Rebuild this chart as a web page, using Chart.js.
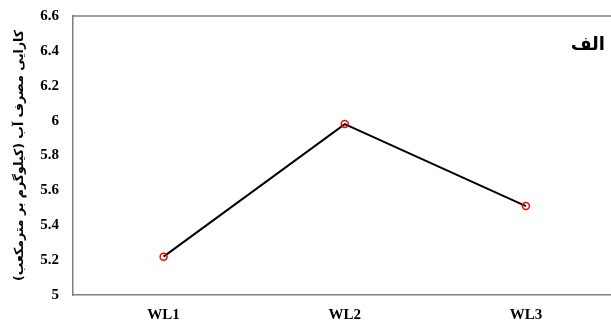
<!DOCTYPE html>
<html>
<head>
  <meta charset="utf-8">
  <title>WUE</title>
  <script src="https://cdn.jsdelivr.net/npm/chart.js@4.4.0/dist/chart.umd.min.js"></script>
  <style>
    html, body { margin: 0; padding: 0; background: #fff; overflow: hidden; }
    #wrap { width: 622px; height: 320px; }
  </style>
</head>
<body>
  <div id="wrap"><canvas id="myChart" width="622" height="320"></canvas></div>
  <script type="text/javascript">
    var categories = ["WL1", "WL2", "WL3"];
    var wueValues = [5.22, 5.98, 5.51];
    var yTicks = [5, 5.2, 5.4, 5.6, 5.8, 6, 6.2, 6.4, 6.6];
    var axisTitle = "کارایی مصرف آب (کیلوگرم بر مترمکعب)";
    var panelLabel = "الف";

    var AXIS_GRAY = "#7f7f7f";
    var SERIF = "'Liberation Serif', 'Times New Roman', serif";

    // top frame line + panel letter
    var extras = {
      id: "extras",
      afterDraw: function(chart) {
        var c = chart.ctx, a = chart.chartArea;
        c.save();
        c.strokeStyle = AXIS_GRAY;
        c.lineWidth = 1.5;
        c.beginPath();
        c.moveTo(a.left, a.top);
        c.lineTo(a.right + 5, a.top);
        c.stroke();
        c.fillStyle = "#000";
        c.font = "bold 18px 'DejaVu Sans', 'Noto Sans'";
        c.textAlign = "right";
        c.textBaseline = "middle";
        c.fillText(panelLabel, 605, 45);
        c.restore();
      }
    };

    var ctx = document.getElementById("myChart");
    var myChart = new Chart(ctx, {
      type: "line",
      data: {
        labels: categories,
        datasets: [{
          data: wueValues,
          borderColor: "#000",
          borderWidth: 2,
          pointRadius: 3.5,
          pointBorderWidth: 1.5,
          pointBorderColor: "#ff0000",
          pointBackgroundColor: "transparent",
          tension: 0
        }]
      },
      options: {
        responsive: false,
        animation: false,
        layout: { padding: { top: 16, right: 2, left: 0, bottom: 0 } },
        plugins: { legend: { display: false }, tooltip: { enabled: false } },
        scales: {
          x: {
            offset: true,
            grid: { display: false, drawTicks: false },
            border: { color: AXIS_GRAY, width: 1.5 },
            ticks: {
              color: "#000",
              padding: 11,
              font: { family: SERIF, size: 15, weight: "bold" }
            },
            afterFit: function(s) { s.height = 25; s.paddingLeft = 0; s.paddingRight = 0; }
          },
          y: {
            min: 5,
            max: 6.6,
            grid: { display: false, drawTicks: false },
            border: { color: AXIS_GRAY, width: 1.5 },
            afterBuildTicks: function(s) {
              s.ticks = yTicks.map(function(v) { return { value: v }; });
            },
            afterFit: function(s) { s.width = 73; s.paddingTop = 0; s.paddingBottom = 0; },
            ticks: {
              color: "#000",
              padding: 14,
              font: { family: SERIF, size: 15, weight: "bold" },
              callback: function(v) { return String(Math.round(v * 10) / 10); }
            },
            title: {
              display: true,
              text: axisTitle,
              color: "#000",
              padding: { top: 12, bottom: 0 },
              font: { family: "'DejaVu Sans', 'Noto Sans'", size: 12.5, weight: "bold" }
            }
          }
        }
      },
      plugins: [extras]
    });
  </script>
</body>
</html>
